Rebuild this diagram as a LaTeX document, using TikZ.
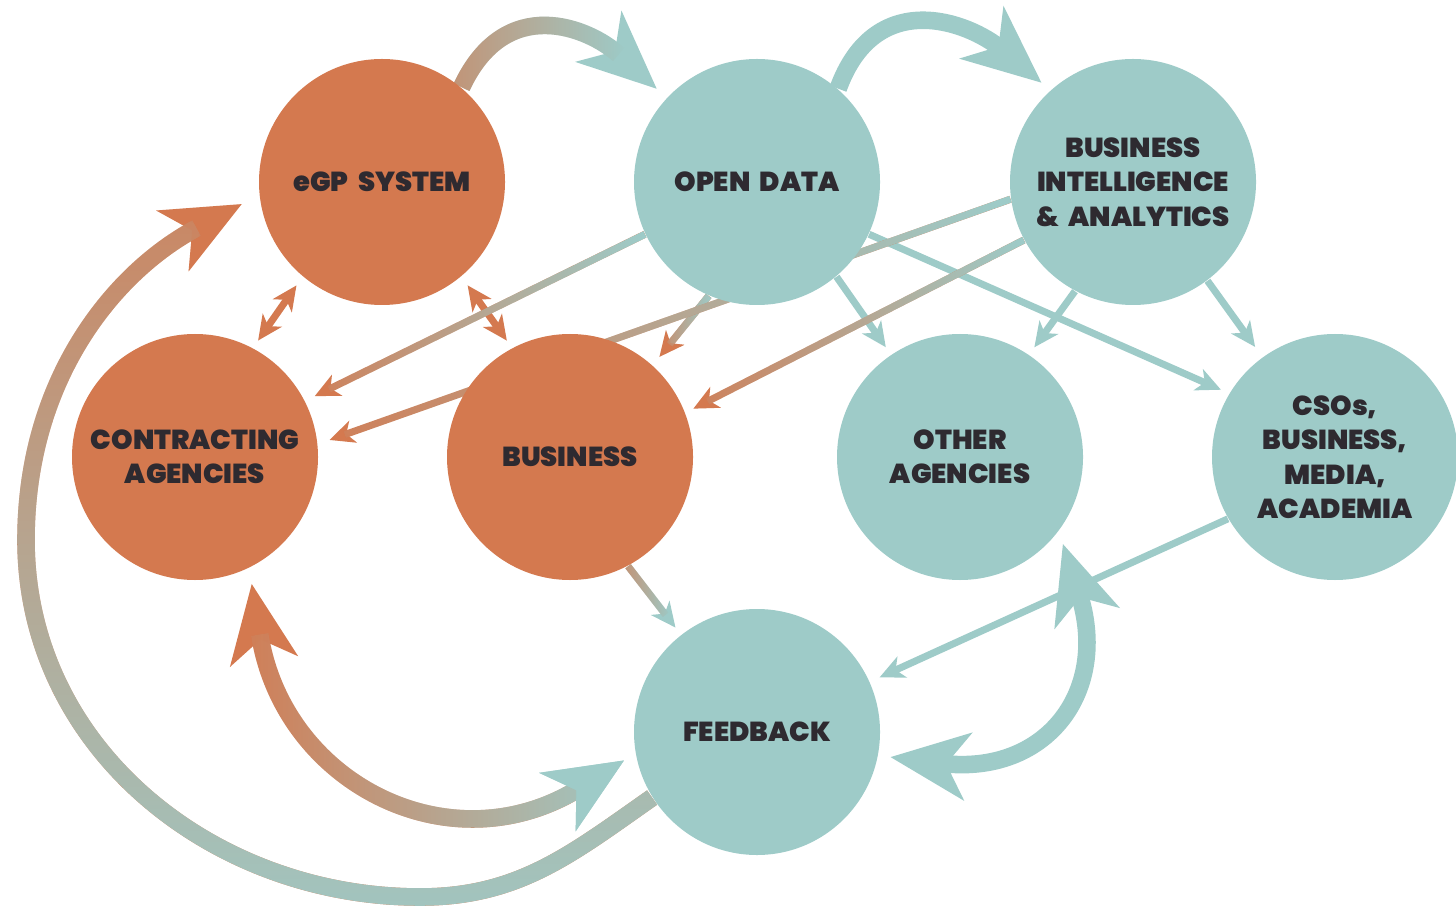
\documentclass[tikz,border=0pt]{standalone}
\usepackage{fontspec}
\setmainfont{Poppins}[BoldFont={Poppins Black}, BoldFeatures={WordSpace=2}]
\usetikzlibrary{arrows.meta,fadings}
\definecolor{rust}{HTML}{D4794F}
\definecolor{sea}{HTML}{9ECBC8}
\definecolor{ink}{HTML}{2E2A30}
\colorlet{tipcol}{black}
\pgfdeclarelayer{back}
\pgfsetlayers{back,main}
% overlay colour is opaque at the start of an arrow and gone before its tip
\pgfdeclarehorizontalshading{fromLeftShade}{100bp}{color(0bp)=(pgftransparent!0); color(5bp)=(pgftransparent!0); color(64bp)=(pgftransparent!100); color(100bp)=(pgftransparent!100)}
\pgfdeclarefading{fromLeft}{\pgfuseshading{fromLeftShade}}
\pgfdeclarehorizontalshading{fromRightShade}{100bp}{color(0bp)=(pgftransparent!100); color(22bp)=(pgftransparent!100); color(74bp)=(pgftransparent!0); color(100bp)=(pgftransparent!0)}
\pgfdeclarefading{fromRight}{\pgfuseshading{fromRightShade}}
\pgfdeclareverticalshading{fromBottomShade}{100bp}{color(0bp)=(pgftransparent!0); color(20bp)=(pgftransparent!0); color(85bp)=(pgftransparent!100); color(100bp)=(pgftransparent!100)}
\pgfdeclarefading{fromBottom}{\pgfuseshading{fromBottomShade}}
\begin{document}
\begin{tikzpicture}[every node/.style={circle, minimum size=2.46cm, inner sep=0pt, align=center, text=ink, font=\bfseries\fontsize{7.8}{9.8}\selectfont},
    smalltip/.tip={Stealth[length=7pt,width=6.5pt,inset=2pt,color=tipcol]},
    bigtip/.tip={Stealth[length=22pt,width=19pt,inset=6pt,color=tipcol]},
    seatip/.tip={Stealth[length=22pt,width=19pt,inset=6pt,color=sea]},
    thinarrow/.style={line width=2pt, -smalltip},
    thinboth/.style={line width=2pt, smalltip-smalltip},
    bigarrow/.style={line width=5pt, -bigtip},
    bigboth/.style={line width=5pt, bigtip-bigtip},
    paint/.style={draw=#1, /utils/exec={\colorlet{tipcol}{#1}}},
    blend/.style n args={3}{paint=#1, postaction={draw=#2, path fading=#3}}]
    \useasboundingbox (0,0) rectangle (14.56,-9.13);

    \node[fill=rust] (egp) at (3.82,-1.82) {eGP SYSTEM};
    \node[fill=sea] (od) at (7.57,-1.82) {OPEN DATA};
    \node[fill=sea] (bi) at (11.33,-1.82) {BUSINESS\\INTELLIGENCE\\\& ANALYTICS};
    \node[fill=rust] (ca) at (1.95,-4.57) {CONTRACTING\\AGENCIES};
    \node[fill=rust] (bus) at (5.70,-4.57) {BUSINESS};
    \node[fill=sea] (oa) at (9.60,-4.57) {OTHER\\AGENCIES};
    \node[fill=sea] (cso) at (13.35,-4.57) {CSOs,\\BUSINESS,\\MEDIA,\\ACADEMIA};
    \node[fill=sea] (fb) at (7.57,-7.32) {FEEDBACK};

    % bends of the long loop
    \coordinate (low) at (4.20,-8.97);
    \coordinate (left) at (0.26,-5.40);

    \begin{pgfonlayer}{back}
        \draw[bigarrow, blend={sea}{rust}{fromLeft}, shorten >=3.7pt] (egp.50) to[out=65,in=138,looseness=1.3] (od.137);
        \draw[bigarrow, paint=sea, shorten >=3.2pt] (od.49) to[out=70,in=140,looseness=1.3] (bi.132);
        \draw[thinboth, paint=rust, shorten <=3pt, shorten >=2.5pt] (egp.230) -- (ca.62);
        \draw[thinboth, paint=rust, shorten <=3pt, shorten >=2.5pt] (egp.310) -- (bus.118);
        \draw[thinarrow, blend={rust}{sea}{fromRight}, shorten >=3pt] (od.205) -- (ca.27);
        \draw[thinarrow, blend={rust}{sea}{fromRight}, shorten >=3pt] (od.247) -- (bus.48);
        \draw[thinarrow, paint=sea, shorten >=2.5pt] (od.310) -- (oa.124);
        \draw[thinarrow, paint=sea, shorten >=2.5pt] (od.335) -- (cso.149);
        \draw[thinarrow, blend={rust}{sea}{fromRight}, shorten >=3.5pt] (bi.188) -- (ca.6);
        \draw[thinarrow, blend={rust}{sea}{fromRight}, shorten >=2.5pt] (bi.208) -- (bus.21);
        \draw[thinarrow, paint=sea, shorten >=2.5pt] (bi.242) -- (oa.56);
        \draw[thinarrow, paint=sea, shorten >=3.5pt] (bi.307) -- (cso.126);
        \draw[thinarrow, blend={sea}{rust}{fromLeft}, shorten >=2.5pt] (bus.298) -- (fb.128);
        \draw[thinarrow, paint=sea, shorten >=3pt] (cso.210) -- (fb.24);
        \draw[bigboth, paint=sea, shorten <=3.4pt, shorten >=3.7pt] (fb.349) to[out=-7,in=-72,looseness=1.5] (oa.323);
        \draw[line width=5pt, bigtip-seatip, blend={rust}{sea}{fromRight}, shorten <=4.5pt, shorten >=3.7pt] (ca.296) to[out=-81,in=212,looseness=1.3] (fb.190);
        \draw[bigarrow, blend={rust}{sea}{fromBottom}, shorten >=5.5pt] (fb.212) to[out=215,in=0] (low) to[out=180,in=270] (left) to[out=90,in=208] (egp.186);
    \end{pgfonlayer}
\end{tikzpicture}
\end{document}
